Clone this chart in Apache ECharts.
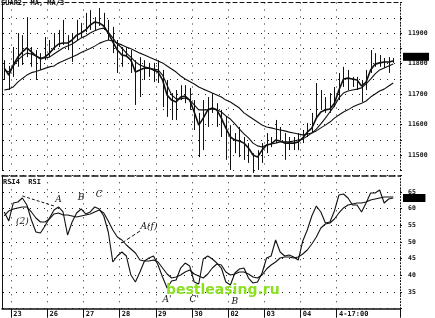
<!DOCTYPE html>
<html><head><meta charset="utf-8">
<script src="https://cdn.jsdelivr.net/npm/echarts@6/dist/echarts.min.js"></script>
<style>html,body{margin:0;padding:0;background:#fff}#c{width:435px;height:318px}</style>
</head><body><div id="c"></div>
<script>
// ---- price panel (bars: low/high), moving averages ----
const priceHigh = [11811,11792,11854,11900,11893,11952,11854,11844,11834,11887,
  11877,11900,11910,11943,11893,11900,11943,11933,11966,11975,
  11952,11982,11966,11943,11920,11877,11854,11854,11844,11811,
  11821,11811,11802,11802,11811,11779,11746,11703,11713,11729,
  11729,11720,11680,11638,11680,11690,11703,11670,11648,11625,
  11598,11572,11592,11559,11539,11506,11516,11539,11572,11559,
  11615,11592,11572,11559,11559,11572,11582,11605,11638,11736,
  11713,11690,11703,11723,11769,11789,11779,11756,11756,11746,
  11779,11844,11834,11828,11818,11821,11818];
const priceLow = [11746,11713,11756,11789,11795,11821,11789,11746,11779,11811,
  11821,11844,11854,11861,11844,11805,11877,11887,11903,11910,
  11910,11923,11910,11877,11834,11769,11789,11821,11769,11664,
  11690,11746,11756,11739,11736,11657,11625,11615,11615,11680,
  11670,11648,11582,11493,11516,11592,11638,11592,11559,11484,
  11451,11506,11493,11484,11474,11441,11451,11474,11506,11526,
  11539,11549,11484,11516,11516,11516,11539,11559,11572,11621,
  11648,11638,11638,11657,11680,11723,11713,11723,11713,11674,
  11713,11769,11789,11789,11785,11769,11802];
const fastMA = [11785,11762,11795,11821,11838,11851,11838,11825,11815,11821,
  11834,11851,11864,11867,11867,11877,11893,11900,11910,11926,
  11936,11933,11923,11900,11871,11844,11828,11825,11811,11772,
  11779,11785,11785,11779,11772,11746,11697,11680,11674,11690,
  11693,11680,11641,11598,11621,11648,11654,11648,11621,11588,
  11559,11549,11546,11539,11523,11500,11493,11516,11533,11536,
  11549,11546,11539,11539,11539,11543,11556,11575,11588,11621,
  11641,11648,11651,11670,11713,11749,11752,11749,11746,11726,
  11739,11779,11798,11802,11805,11805,11808];
const midMA = [11779,11772,11792,11811,11825,11834,11831,11825,11818,11818,
  11821,11831,11841,11851,11857,11864,11874,11884,11890,11900,
  11907,11913,11916,11903,11884,11864,11851,11834,11821,11805,
  11795,11789,11785,11782,11779,11762,11729,11697,11684,11684,
  11687,11680,11664,11648,11648,11648,11651,11648,11641,11628,
  11618,11602,11585,11569,11556,11539,11530,11526,11533,11536,
  11539,11543,11543,11543,11546,11549,11552,11562,11572,11585,
  11602,11621,11641,11661,11687,11703,11710,11713,11716,11720,
  11733,11749,11766,11779,11785,11792,11798];
const slowMA = [11713,11716,11723,11739,11751,11762,11770,11774,11779,11784,
  11789,11792,11802,11808,11815,11821,11828,11836,11843,11849,
  11857,11866,11872,11877,11874,11866,11861,11854,11848,11841,
  11834,11828,11821,11815,11808,11802,11792,11782,11772,11759,
  11749,11741,11733,11723,11716,11710,11703,11697,11690,11680,
  11674,11664,11654,11638,11628,11618,11608,11598,11592,11589,
  11585,11582,11579,11575,11572,11569,11566,11569,11572,11579,
  11589,11598,11608,11621,11631,11641,11648,11657,11664,11670,
  11677,11690,11700,11710,11716,11726,11736];
// ---- RSI panel ----
const rsiFast = [59.0,56.3,61.7,62.0,63.2,61.1,56.6,53.0,52.7,54.8,
  57.2,59.6,60.5,59.0,52.1,56.0,58.7,59.9,58.4,59.0,
  60.5,59.9,57.8,53.0,44.0,45.8,47.0,45.8,40.1,38.0,
  41.0,44.3,45.2,45.8,43.1,39.5,36.2,38.3,38.6,42.2,
  43.7,42.8,38.0,37.4,44.9,45.8,44.9,43.7,42.2,38.0,
  37.1,40.7,41.9,42.2,39.2,37.7,38.0,40.7,45.2,45.8,
  50.6,47.0,45.8,46.1,45.5,44.6,50.3,53.6,57.8,60.8,
  59.0,55.7,56.0,59.3,64.1,64.4,63.2,61.1,61.1,59.0,
  61.7,64.7,64.7,65.6,61.7,62.9,63.2];
const rsiSlow = [57.8,59.3,59.9,60.2,60.5,60.5,59.0,57.2,56.0,56.0,
  56.9,58.4,58.7,58.1,58.1,57.8,57.5,57.8,58.1,58.4,
  59.0,59.6,58.7,56.3,53.6,51.5,50.6,49.1,47.9,46.7,
  44.6,44.3,44.3,44.6,44.0,42.2,40.4,39.2,39.5,40.1,
  41.0,41.6,40.4,39.8,39.2,40.4,42.2,43.4,43.1,41.0,
  40.1,40.4,41.0,41.0,40.4,39.5,39.2,40.1,41.9,43.1,
  44.0,45.2,45.5,45.5,45.2,45.5,46.4,47.6,49.4,51.5,
  54.2,55.4,55.7,56.9,58.7,60.2,61.1,61.4,61.7,61.7,
  62.0,62.6,62.9,63.2,63.5,63.5,63.5];
// ---- axis labels ----
const dayLabels = ['23','26','27','28','29','30','02','03','04','4-17:00'];
const dayStartIndex = [2,10,18,26,34,42,50,58,66,74];
const priceTicks = [11500,11600,11700,11800,11900];
const rsiTicks = [35,40,45,50,55,60,65];
const lastPriceTag = 11822;
const lastRsiTag = 63.2;
const topTitle = 'SUAR2, MA, MA/3';
const rsiTitle = 'RSI4  RSI';
const annotations = [
  {name:'A', coord:[12,62.6]}, {name:'B', coord:[17,63.2]}, {name:'C', coord:[21,64.3]},
  {name:'(2)', coord:[4,56]}, {name:'A(f)', coord:[32,54.5]},
  {name:"A'", coord:[36,32.6]}, {name:"C'", coord:[42,32.6]}, {name:'B', coord:[51,32.2]}
];

const NBARS = 88;
const cats = Array.from({length: NBARS}, (_, i) => 'b' + i);
const labelAt = {};
dayStartIndex.forEach((k, j) => { labelAt[k] = dayLabels[j]; });
const isDay = (idx) => labelAt[idx] !== undefined;

const FONT = '"DejaVu Sans Mono", monospace';
const ink = '#111';
const dotted = {color: '#222', width: 1, type: [1, 6]};
const tagLabel = (txt) => ({show: true, position: 'end', distance: 3, formatter: txt,
  backgroundColor: '#000', color: '#000', fontSize: 6, padding: [1, 4], fontFamily: FONT});

const chart = echarts.init(document.getElementById('c'), null, {renderer: 'canvas'});
chart.setOption({
  animation: false,
  backgroundColor: '#fff',
  title: [
    {text: topTitle, left: 1, top: 0, padding: 0, textStyle: {fontSize: 7, fontWeight: 'bold', fontFamily: FONT, color: ink}},
    {text: rsiTitle, left: 3, top: 179, padding: 0, textStyle: {fontSize: 7, fontWeight: 'bold', fontFamily: FONT, color: ink}}
  ],
  grid: [
    {left: 2, right: 35, top: 2.5, height: 167.75},
    {left: 2, right: 35, top: 175.3, height: 133.4}
  ],
  xAxis: [
    {type: 'category', gridIndex: 0, data: cats, position: 'top', boundaryGap: true,
     axisLine: {show: true, lineStyle: {color: ink, width: 1, type: [4, 3]}},
     axisTick: {show: false}, axisLabel: {show: false},
     splitLine: {show: true, interval: (i) => isDay(i), lineStyle: dotted}},
    {type: 'category', gridIndex: 1, data: cats, position: 'bottom', boundaryGap: true,
     axisLine: {show: true, lineStyle: {color: ink, width: 1.5}},
     axisTick: {show: true, interval: (i) => isDay(i), length: 9, lineStyle: {color: ink, width: 1}},
     axisLabel: {show: true, interval: (i) => isDay(i), formatter: (v, i) => labelAt[i] || '',
       align: 'left', margin: 2, fontSize: 7, fontWeight: 'bold', fontFamily: FONT, color: ink},
     splitLine: {show: true, interval: (i) => isDay(i), lineStyle: dotted}},
    {type: 'category', gridIndex: 1, data: cats, position: 'top', boundaryGap: true,
     axisLine: {show: true, lineStyle: {color: ink, width: 1.5, type: [6, 3]}},
     axisTick: {show: false}, axisLabel: {show: false}, splitLine: {show: false}}
  ],
  yAxis: [
    {type: 'value', gridIndex: 0, position: 'right', min: 11450, max: 12000, interval: 50, scale: true,
     axisLine: {show: true, lineStyle: {color: ink, type: [1, 2]}},
     axisTick: {show: true, length: 2, lineStyle: {color: ink}},
     axisLabel: {formatter: (v) => priceTicks.includes(v) ? String(v) : '', margin: 8,
       fontSize: 6.5, fontWeight: 'bold', fontFamily: FONT, color: ink},
     splitLine: {show: true, lineStyle: dotted}},
    {type: 'value', gridIndex: 0, position: 'left', min: 11450, max: 12000, interval: 50, scale: true,
     axisLine: {show: true, lineStyle: {color: ink, width: 1}},
     axisTick: {show: true, inside: true, length: 2, lineStyle: {color: ink}},
     axisLabel: {show: false}, splitLine: {show: false}},
    {type: 'value', gridIndex: 1, position: 'right', min: 30, max: 70, interval: 5,
     axisLine: {show: true, lineStyle: {color: ink, type: [1, 2]}},
     axisTick: {show: true, length: 2, lineStyle: {color: ink}},
     axisLabel: {formatter: (v) => rsiTicks.includes(v) ? String(v) : '', margin: 8,
       fontSize: 6.5, fontWeight: 'bold', fontFamily: FONT, color: ink},
     splitLine: {show: true, lineStyle: dotted}},
    {type: 'value', gridIndex: 1, position: 'left', min: 30, max: 70, interval: 5,
     axisLine: {show: true, lineStyle: {color: ink, width: 1}},
     axisTick: {show: true, inside: true, length: 2, lineStyle: {color: ink}},
     axisLabel: {show: false}, splitLine: {show: false}}
  ],
  graphic: [
    {type: 'text', left: 166, top: 283, z: 100,
     style: {text: 'bestleasing.ru', fill: '#8be024', font: 'bold 14px "DejaVu Sans", sans-serif'}}
  ],
  series: [
    {type: 'custom', name: 'bars', xAxisIndex: 0, yAxisIndex: 0,
     data: priceLow.map((l, i) => [i, l, priceHigh[i]]),
     encode: {x: 0, y: [1, 2]},
     renderItem: (params, api) => {
       const i = api.value(0);
       const lo = api.coord([i, api.value(1)]);
       const hi = api.coord([i, api.value(2)]);
       const x = Math.round(lo[0]) + 0.5;
       return {type: 'line', shape: {x1: x, y1: lo[1], x2: x, y2: hi[1]},
               style: {stroke: ink, lineWidth: 1}};
     }},
    {type: 'line', name: 'fast', xAxisIndex: 0, yAxisIndex: 0, data: fastMA, symbol: 'none',
     lineStyle: {color: ink, width: 1.6},
     markLine: {silent: true, symbol: 'none', lineStyle: {color: 'rgba(0,0,0,0)', width: 0},
       label: tagLabel(String(lastPriceTag)),
       data: [{yAxis: lastPriceTag}]}},
    {type: 'line', name: 'mid', xAxisIndex: 0, yAxisIndex: 0, data: midMA, symbol: 'none',
     lineStyle: {color: ink, width: 1.1}},
    {type: 'line', name: 'slow', xAxisIndex: 0, yAxisIndex: 0, data: slowMA, symbol: 'none',
     lineStyle: {color: ink, width: 1.1}},
    {type: 'line', name: 'rsi', xAxisIndex: 1, yAxisIndex: 2, data: rsiFast, symbol: 'none',
     lineStyle: {color: ink, width: 1.1},
     markPoint: {symbolSize: 0, silent: true,
       label: {show: true, formatter: '{b}', color: ink, fontSize: 9, fontFamily: '"DejaVu Serif", serif', fontStyle: 'italic'},
       data: annotations},
     markLine: {silent: true, symbol: 'none', label: {show: false},
       data: [
         [{coord: [4, 63.8], lineStyle: {color: ink, type: [3, 2], width: 1}}, {coord: [11, 60.8]}],
         [{coord: [26, 49.7], lineStyle: {color: ink, width: 1}}, {coord: [30, 53.3]}]
       ]}},
    {type: 'line', name: 'rsiAvg', xAxisIndex: 1, yAxisIndex: 2, data: rsiSlow, symbol: 'none',
     lineStyle: {color: ink, width: 1.1},
     markLine: {silent: true, symbol: 'none', lineStyle: {color: 'rgba(0,0,0,0)', width: 0},
       label: tagLabel(String(lastRsiTag)),
       data: [{yAxis: lastRsiTag}]}}
  ]
});
</script></body></html>
